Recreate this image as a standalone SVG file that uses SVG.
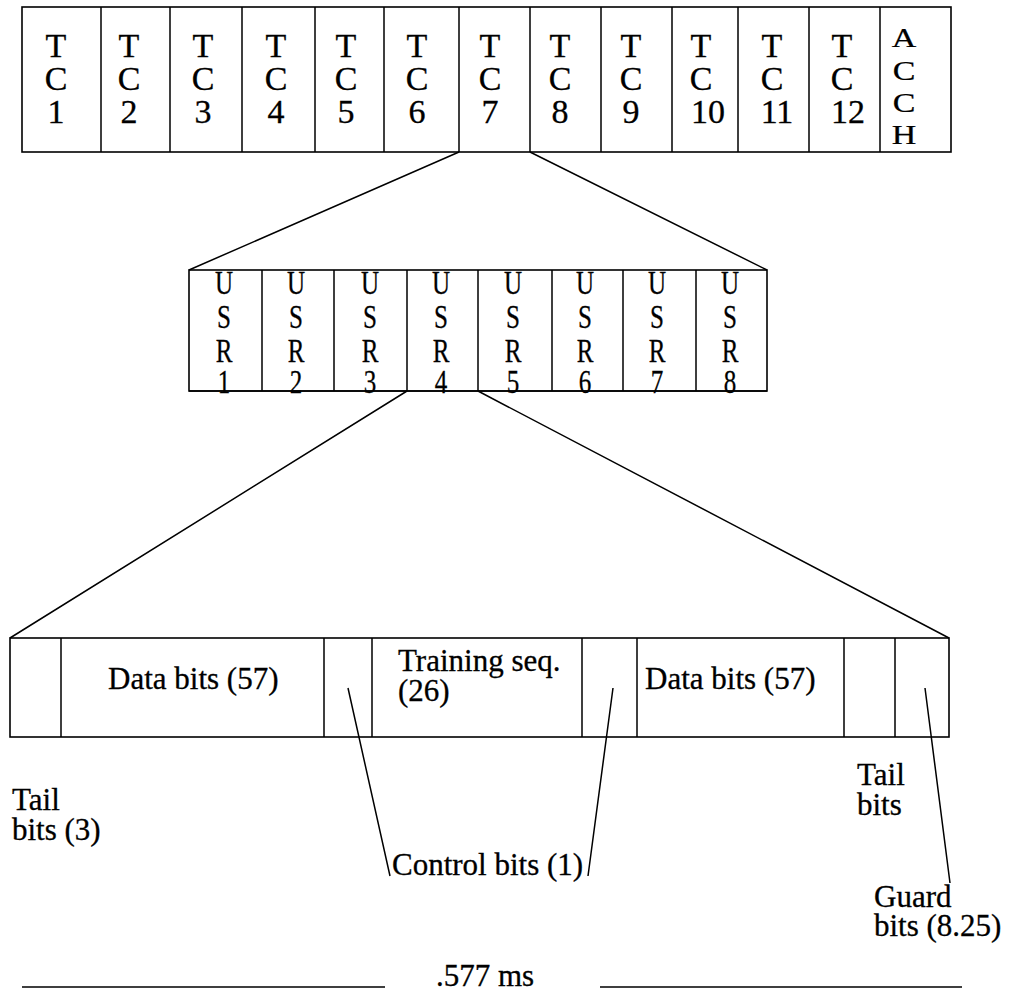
<svg xmlns="http://www.w3.org/2000/svg" width="1013" height="992" viewBox="0 0 1013 992">
<style>
.box{fill:#fff;stroke:#000;stroke-width:1.6}
.ln{stroke:#000;stroke-width:1.5;fill:none}
.t{font-family:"Liberation Serif","Times New Roman",serif;fill:#000;stroke:#000;stroke-width:0.3}
.tc{font-size:34px;text-anchor:middle}
.usr{font-size:33px;text-anchor:middle}
.lab{font-size:31px}
</style>
<rect width="1013" height="992" fill="#fff"/>
<g id="top-frame">
<rect class="box" x="22" y="7" width="929" height="145"/>
<path class="ln" d="M101 7V152M170 7V152M242 7V152M315 7V152M384 7V152M459 7V152M530 7V152M601 7V152M672 7V152M738 7V152M809 7V152M880 7V152"/>
</g>
<g id="tc1"><text class="t tc"><tspan x="56" y="57">T</tspan><tspan x="56" y="90">C</tspan><tspan x="56" y="123">1</tspan></text></g>
<g id="tc2"><text class="t tc"><tspan x="129" y="57">T</tspan><tspan x="129" y="90">C</tspan><tspan x="129" y="123">2</tspan></text></g>
<g id="tc3"><text class="t tc"><tspan x="203" y="57">T</tspan><tspan x="203" y="90">C</tspan><tspan x="203" y="123">3</tspan></text></g>
<g id="tc4"><text class="t tc"><tspan x="276" y="57">T</tspan><tspan x="276" y="90">C</tspan><tspan x="276" y="123">4</tspan></text></g>
<g id="tc5"><text class="t tc"><tspan x="346" y="57">T</tspan><tspan x="346" y="90">C</tspan><tspan x="346" y="123">5</tspan></text></g>
<g id="tc6"><text class="t tc"><tspan x="417" y="57">T</tspan><tspan x="417" y="90">C</tspan><tspan x="417" y="123">6</tspan></text></g>
<g id="tc7"><text class="t tc"><tspan x="490" y="57">T</tspan><tspan x="490" y="90">C</tspan><tspan x="490" y="123">7</tspan></text></g>
<g id="tc8"><text class="t tc"><tspan x="560" y="57">T</tspan><tspan x="560" y="90">C</tspan><tspan x="560" y="123">8</tspan></text></g>
<g id="tc9"><text class="t tc"><tspan x="631" y="57">T</tspan><tspan x="631" y="90">C</tspan><tspan x="631" y="123">9</tspan></text></g>
<g id="tc10"><text class="t tc"><tspan x="701" y="57">T</tspan><tspan x="701" y="90">C</tspan><tspan x="708" y="123">10</tspan></text></g>
<g id="tc11"><text class="t tc"><tspan x="772" y="57">T</tspan><tspan x="772" y="90">C</tspan><tspan x="777" y="123">11</tspan></text></g>
<g id="tc12"><text class="t tc"><tspan x="842" y="57">T</tspan><tspan x="842" y="90">C</tspan><tspan x="848" y="123">12</tspan></text></g>
<g id="acch"><text class="t tc" transform="translate(904,0) scale(1,0.8)"><tspan x="0" y="59">A</tspan><tspan x="0" y="100">C</tspan><tspan x="0" y="140">C</tspan><tspan x="0" y="180">H</tspan></text></g>

<g id="usr-frame">
<rect class="box" x="189" y="270" width="578" height="121"/>
<path class="ln" d="M262 270V391M334 270V391M407 270V391M478 270V391M552 270V391M623 270V391M696 270V391"/>
</g>
<g id="usr1"><text class="t usr" transform="translate(224,0) scale(0.76,1)"><tspan x="0" y="294">U</tspan><tspan x="0" y="328">S</tspan><tspan x="0" y="362">R</tspan><tspan x="0" y="393">1</tspan></text></g>
<g id="usr2"><text class="t usr" transform="translate(296,0) scale(0.76,1)"><tspan x="0" y="294">U</tspan><tspan x="0" y="328">S</tspan><tspan x="0" y="362">R</tspan><tspan x="0" y="393">2</tspan></text></g>
<g id="usr3"><text class="t usr" transform="translate(370,0) scale(0.76,1)"><tspan x="0" y="294">U</tspan><tspan x="0" y="328">S</tspan><tspan x="0" y="362">R</tspan><tspan x="0" y="393">3</tspan></text></g>
<g id="usr4"><text class="t usr" transform="translate(441,0) scale(0.76,1)"><tspan x="0" y="294">U</tspan><tspan x="0" y="328">S</tspan><tspan x="0" y="362">R</tspan><tspan x="0" y="393">4</tspan></text></g>
<g id="usr5"><text class="t usr" transform="translate(513,0) scale(0.76,1)"><tspan x="0" y="294">U</tspan><tspan x="0" y="328">S</tspan><tspan x="0" y="362">R</tspan><tspan x="0" y="393">5</tspan></text></g>
<g id="usr6"><text class="t usr" transform="translate(585,0) scale(0.76,1)"><tspan x="0" y="294">U</tspan><tspan x="0" y="328">S</tspan><tspan x="0" y="362">R</tspan><tspan x="0" y="393">6</tspan></text></g>
<g id="usr7"><text class="t usr" transform="translate(657,0) scale(0.76,1)"><tspan x="0" y="294">U</tspan><tspan x="0" y="328">S</tspan><tspan x="0" y="362">R</tspan><tspan x="0" y="393">7</tspan></text></g>
<g id="usr8"><text class="t usr" transform="translate(730,0) scale(0.76,1)"><tspan x="0" y="294">U</tspan><tspan x="0" y="328">S</tspan><tspan x="0" y="362">R</tspan><tspan x="0" y="393">8</tspan></text></g>
<path class="ln" d="M189 391H767"/>

<g id="burst-frame">
<rect class="box" x="10" y="638" width="939" height="99"/>
<path class="ln" d="M61 638V737M324 638V737M372 638V737M582 638V737M637 638V737M844 638V737M895 638V737"/>
</g>
<g id="data1"><text class="t lab" x="108" y="689">Data bits (57)</text></g>
<g id="training"><text class="t lab"><tspan x="398" y="671">Training seq.</tspan><tspan x="398" y="701">(26)</tspan></text></g>
<g id="data2"><text class="t lab" x="645" y="689">Data bits (57)</text></g>
<g id="tail-left"><text class="t lab"><tspan x="12" y="810">Tail</tspan><tspan x="12" y="840">bits (3)</tspan></text></g>
<g id="tail-right"><text class="t lab"><tspan x="857" y="785">Tail</tspan><tspan x="857" y="815">bits</tspan></text></g>
<g id="control"><text class="t lab" x="392" y="875">Control bits (1)</text></g>
<g id="guard"><text class="t lab"><tspan x="874" y="907">Guard</tspan><tspan x="874" y="936">bits (8.25)</tspan></text></g>
<g id="duration"><text class="t lab" x="436" y="986" font-size="30">.577 ms</text></g>

<g id="connectors">
<path class="ln" d="M459 152L189 270M530 152L767 270"/>
<path class="ln" d="M407 391L10 638M478 391L949 638"/>
<path class="ln" d="M348 688L390 876M613 688L588 876M925 688L950 883"/>
<path class="ln" d="M22 987H385M600 987H962"/>
</g>
</svg>
